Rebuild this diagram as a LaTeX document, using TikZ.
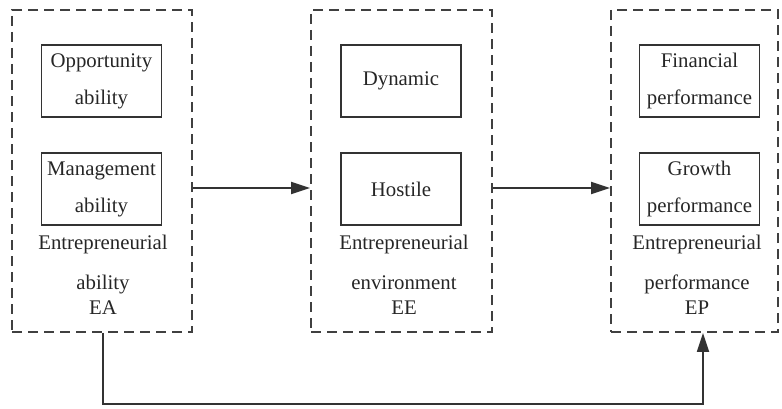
\documentclass[tikz,border=0pt]{standalone}
\usepackage{fontspec}
\setmainfont{Liberation Serif}
\usetikzlibrary{arrows.meta}

\begin{document}
\begin{tikzpicture}[x=1pt,y=1pt,
    >={Triangle[length=19pt,width=12pt]},
    every node/.style={text=black!85, font=\fontsize{20.8pt}{37pt}\selectfont},
    group/.style={draw=black!75, line width=1.8pt, dash pattern=on 10pt off 6pt,
                  minimum height=322pt, inner sep=0pt},
    factor/.style={draw=black!80, line width=1.8pt, align=center,
                   minimum width=120pt, minimum height=72pt, inner sep=0pt},
    caption/.style={align=center, anchor=north, inner sep=0pt},
    link/.style={->, draw=black!80, line width=1.8pt}]
  \useasboundingbox (0,0) rectangle (782,408);

  \node[group, minimum width=180pt] (EA) at (102,237)   {};
  \node[group, minimum width=181pt] (EE) at (401.5,237) {};
  \node[group, minimum width=167pt] (EP) at (694.5,237) {};

  \node[factor] (opp)  at (101.5,327) {Opportunity\\ability};
  \node[factor] (man)  at (101.5,219) {Management\\ability};
  \node[factor] (dyn)  at (401,327)   {Dynamic};
  \node[factor] (hos)  at (401,219)   {Hostile};
  \node[factor] (fin)  at (699.5,327) {Financial\\performance};
  \node[factor] (gro)  at (699.5,219) {Growth\\performance};

  \node[caption] (EAl) at (103,173) {Entrepreneurial\\[3pt]ability\\[-12pt]EA};
  \node[caption] (EEl) at (404,173) {Entrepreneurial\\[3pt]environment\\[-12pt]EE};
  \node[caption] (EPl) at (697,173) {Entrepreneurial\\[3pt]performance\\[-12pt]EP};

  \draw[link] ([yshift=-17pt]EA.east) -- ([yshift=-17pt]EE.west);
  \draw[link] ([yshift=-17pt]EE.east) -- ([yshift=-17pt]EP.west);
  \draw[link] ([xshift=1pt]EA.south) -- ++(0,-71) -| ([xshift=8.5pt]EP.south);
\end{tikzpicture}
\end{document}
